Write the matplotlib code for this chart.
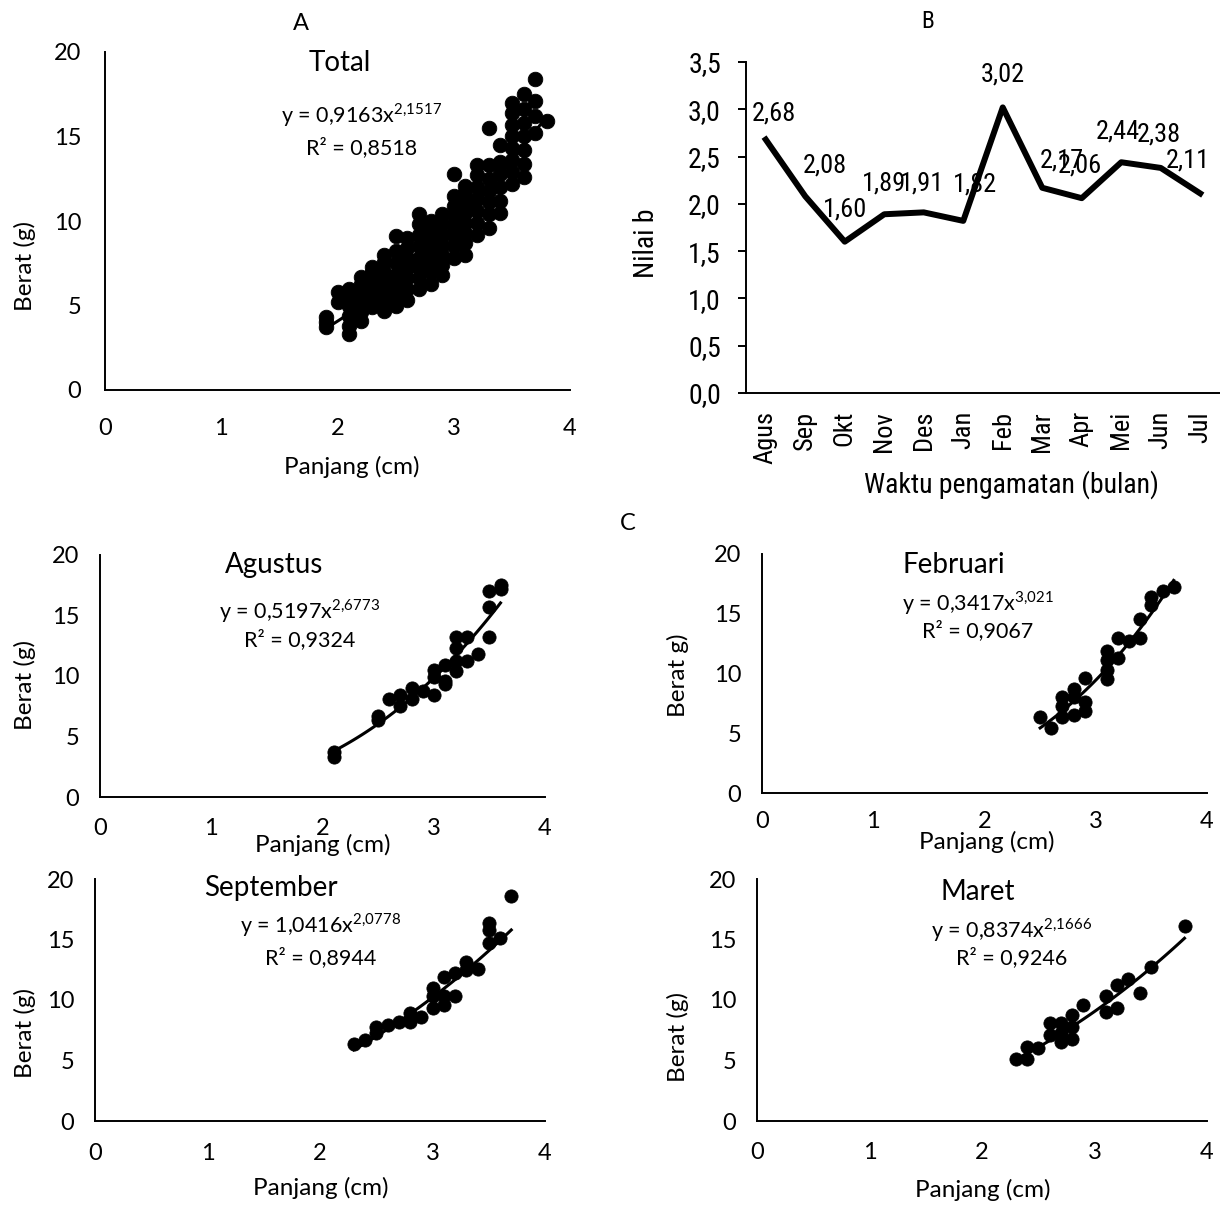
import numpy as np
import matplotlib
matplotlib.use("Agg")
import matplotlib.pyplot as plt
from matplotlib import font_manager

# --------------------------------------------------
# Data
# --------------------------------------------------
bulan = ["Agus", "Sep", "Okt", "Nov", "Des", "Jan", "Feb", "Mar", "Apr", "Mei", "Jun", "Jul"]
nilai_b = [2.68, 2.08, 1.60, 1.89, 1.91, 1.82, 3.02, 2.17, 2.06, 2.44, 2.38, 2.11]

# total: all months pooled
total_len = [1.9, 1.9, 1.9,
             2.0, 2.0,
             2.1, 2.1, 2.1, 2.1, 2.1, 2.1,
             2.2, 2.2, 2.2, 2.2, 2.2, 2.2,
             2.3, 2.3, 2.3, 2.3, 2.3, 2.3,
             2.4, 2.4, 2.4, 2.4, 2.4, 2.4, 2.4,
             2.5, 2.5, 2.5, 2.5, 2.5, 2.5, 2.5,
             2.6, 2.6, 2.6, 2.6, 2.6, 2.6, 2.6,
             2.7, 2.7, 2.7, 2.7, 2.7, 2.7, 2.7, 2.7,
             2.8, 2.8, 2.8, 2.8, 2.8, 2.8, 2.8,
             2.9, 2.9, 2.9, 2.9, 2.9, 2.9, 2.9,
             3.0, 3.0, 3.0, 3.0, 3.0, 3.0, 3.0, 3.0,
             3.1, 3.1, 3.1, 3.1, 3.1, 3.1, 3.1, 3.1,
             3.2, 3.2, 3.2, 3.2, 3.2, 3.2, 3.2,
             3.3, 3.3, 3.3, 3.3, 3.3, 3.3, 3.3,
             3.4, 3.4, 3.4, 3.4, 3.4, 3.4,
             3.5, 3.5, 3.5, 3.5, 3.5, 3.5, 3.5, 3.5,
             3.6, 3.6, 3.6, 3.6, 3.6, 3.6, 3.6,
             3.7, 3.7, 3.7, 3.7,
             3.8]
total_wt = [3.7, 4.0, 4.3,
            5.2, 5.8,
            3.3, 3.8, 4.4, 5.0, 5.5, 6.0,
            4.1, 4.6, 5.2, 5.8, 6.3, 6.7,
            4.9, 5.4, 6.0, 6.5, 7.0, 7.3,
            4.7, 5.2, 5.8, 6.4, 7.0, 7.6, 8.0,
            5.0, 5.6, 6.2, 6.8, 7.5, 8.2, 9.1,
            5.3, 6.0, 6.6, 7.2, 7.8, 8.4, 9.0,
            6.0, 6.6, 7.2, 7.8, 8.5, 9.2, 9.8, 10.4,
            6.3, 7.0, 7.6, 8.2, 8.8, 9.4, 10.0,
            6.8, 7.4, 8.0, 8.6, 9.2, 9.8, 10.4,
            7.8, 8.5, 9.1, 9.7, 10.3, 10.9, 11.5, 12.8,
            8.0, 8.7, 9.3, 9.9, 10.5, 11.1, 11.7, 12.1,
            9.2, 9.9, 10.6, 11.3, 12.0, 12.7, 13.3,
            9.6, 10.4, 11.1, 11.8, 12.5, 13.3, 15.5,
            10.5, 11.2, 12.0, 12.8, 13.5, 14.5,
            12.2, 12.9, 13.6, 14.3, 15.0, 15.7, 16.4, 17.0,
            12.6, 13.4, 14.2, 15.0, 15.8, 16.6, 17.5,
            15.2, 16.2, 17.1, 18.4,
            15.9]

agus_len = [2.1, 2.1, 2.5, 2.5, 2.6, 2.7, 2.7, 2.8, 2.8, 2.9, 3.0, 3.0, 3.0,
            3.1, 3.1, 3.1, 3.2, 3.2, 3.2, 3.2, 3.3, 3.3, 3.4, 3.5, 3.5, 3.5, 3.6, 3.6]
agus_wt = [3.3, 3.7, 6.4, 6.7, 8.1, 7.5, 8.4, 8.1, 9.0, 8.8, 8.4, 9.9, 10.5,
           9.3, 9.6, 10.9, 10.4, 11.2, 12.3, 13.2, 11.2, 13.2, 11.8, 13.2, 15.7, 17.0, 17.2, 17.5]

feb_len = [2.5, 2.6, 2.7, 2.7, 2.7, 2.8, 2.8, 2.8, 2.9, 2.9, 2.9,
           3.1, 3.1, 3.1, 3.1, 3.2, 3.2, 3.3, 3.4, 3.4, 3.5, 3.5, 3.6, 3.7]
feb_wt = [6.4, 5.4, 8.0, 7.3, 6.4, 8.7, 8.0, 6.5, 9.6, 7.6, 6.9,
          11.9, 11.1, 10.3, 9.5, 13.0, 11.3, 12.7, 14.6, 13.0, 16.4, 15.7, 16.9, 17.2]

sep_len = [2.3, 2.4, 2.5, 2.5, 2.6, 2.7, 2.8, 2.8, 2.9, 3.0, 3.0, 3.0,
           3.1, 3.1, 3.1, 3.2, 3.2, 3.3, 3.3, 3.4, 3.5, 3.5, 3.5, 3.6, 3.7]
sep_wt = [6.4, 6.7, 7.8, 7.3, 7.9, 8.2, 8.9, 8.2, 8.6, 11.0, 10.3, 9.3,
          11.9, 10.3, 9.6, 10.3, 12.2, 13.1, 12.5, 12.6, 16.4, 15.8, 14.7, 15.1, 18.6]

mar_len = [2.3, 2.4, 2.4, 2.5, 2.6, 2.6, 2.7, 2.7, 2.7, 2.8, 2.8, 2.8,
           2.9, 3.1, 3.1, 3.2, 3.2, 3.3, 3.4, 3.5, 3.8]
mar_wt = [5.1, 6.1, 5.1, 6.0, 8.1, 7.1, 8.1, 6.5, 7.3, 8.8, 7.8, 6.8,
          9.6, 10.3, 9.0, 11.2, 9.3, 11.7, 10.6, 12.7, 16.1]

# power fits y = a * x^b and R^2, as printed on the chart
fit_total = (0.9163, 2.1517, 0.8518)
fit_agus = (0.5197, 2.6773, 0.9324)
fit_feb = (0.3417, 3.021, 0.9067)
fit_sep = (1.0416, 2.0778, 0.8944)
fit_mar = (0.8374, 2.1666, 0.9246)

# label nudges for panel B in pixels (dx, dy up)
label_nudge = [(8, 26), (20, 31), (0, 32), (0, 31), (-2, 29), (12, 36),
               (0, 33), (20, 27), (-2, 33), (-3, 31), (-2, 33), (-12, 33)]

# --------------------------------------------------
# Fonts
# --------------------------------------------------
SANS = ["Lato", "DejaVu Sans"]
installed = {f.name for f in font_manager.fontManager.ttflist}
NARROW_KW = None
for cand in ["Liberation Sans Narrow", "Arial Narrow", "Roboto Condensed",
             "Open Sans Condensed", "Noto Sans Condensed"]:
    if cand in installed:
        NARROW_KW = dict(family=[cand, "DejaVu Sans"])
        break
if NARROW_KW is None:
    cond = [f for f in font_manager.fontManager.ttflist
            if f.stretch in ("condensed", "semi-condensed", 75, 87, "75", "87")
            and f.style == "normal"]
    if cond:
        NARROW_KW = dict(family=[cond[0].name, "DejaVu Sans"], stretch=cond[0].stretch)
    else:
        NARROW_KW = dict(family=["Roboto", "DejaVu Sans"])

plt.rcParams["font.family"] = SANS
plt.rcParams["mathtext.fontset"] = "custom"
plt.rcParams["mathtext.rm"] = "Lato"

# --------------------------------------------------
# Figure helpers (pixel layout)
# --------------------------------------------------
W, H = 1220, 1205
fig = plt.figure(figsize=(W / 100, H / 100), dpi=100)


def px_axes(x0, x1, ytop, ybot):
    return fig.add_axes([x0 / W, 1 - ybot / H, (x1 - x0) / W, (ybot - ytop) / H])


def ftext(px, py, s, **kw):
    kw.setdefault("ha", "center")
    kw.setdefault("va", "center")
    return fig.text(px / W, 1 - py / H, s, **kw)


def fmt_num(v, nd):
    return f"{v:.{nd}f}".replace(".", ",")


def eq_text(a, b):
    bs = str(b).replace(".", "{,}")
    return "y = " + str(a).replace(".", ",") + "x$^{\\mathrm{" + bs + "}}$"


def scatter_panel(box, lens, wts, fit, title, pos, ylab="Berat (g)", ms=10):
    x0, x1, ytop, ybot = box
    ax = px_axes(x0, x1, ytop, ybot)
    a, b, r2 = fit
    ax.plot(lens, wts, "o", color="black", ms=ms, mec="black", mew=0.6,
            clip_on=False, zorder=3)
    xs = np.linspace(min(lens), max(lens), 60)
    ax.plot(xs, a * xs ** b, color="black", lw=2.2, zorder=4)
    ax.set_xlim(0, 4)
    ax.set_ylim(0, 20)
    ax.set_xticks([0, 1, 2, 3, 4])
    ax.set_yticks([0, 5, 10, 15, 20])
    for s in ["top", "right"]:
        ax.spines[s].set_visible(False)
    for s in ["left", "bottom"]:
        ax.spines[s].set_linewidth(1.4)
    ax.tick_params(length=0, labelsize=17, colors="black")
    ax.tick_params(axis="x", pad=pos["xpad"])
    ax.tick_params(axis="y", pad=pos["ypad"])
    ax.patch.set_alpha(0)
    ftext(*pos["title"], title, fontsize=20)
    ftext(*pos["eq"], eq_text(a, b), fontsize=15.5)
    ftext(*pos["r2"], "R² = " + fmt_num(r2, 4), fontsize=15.5)
    ftext(*pos["ylab"], ylab, fontsize=17.5, rotation=90)
    ftext(*pos["xlab"], "Panjang (cm)", fontsize=17.5)
    return ax


# --------------------------------------------------
# A: Total
# --------------------------------------------------
scatter_panel((105, 570, 52, 390), total_len, total_wt, fit_total, "Total",
              dict(title=(340, 63), eq=(362, 115), r2=(362, 148), ylab=(25, 266),
                   xlab=(352, 467), xpad=20, ypad=17), ms=10.5)
ftext(301, 23, "A", fontsize=17)

# --------------------------------------------------
# B: b value per month
# --------------------------------------------------
axb = px_axes(746, 1220, 62, 393)
xi = np.arange(len(bulan))
axb.plot(xi, nilai_b, color="black", lw=4.3, solid_joinstyle="round", zorder=3)
for i, v in enumerate(nilai_b):
    dx, dy = label_nudge[i]
    axb.annotate(fmt_num(v, 2), (xi[i], v), xytext=(dx * 0.72, dy * 0.72),
                 textcoords="offset points", ha="center", va="center",
                 fontsize=19, **NARROW_KW)
axb.set_xlim(-0.5, len(bulan) - 0.5)
axb.set_ylim(0, 3.5)
yt = np.arange(0, 3.51, 0.5)
axb.set_yticks(yt)
axb.set_yticklabels([fmt_num(t, 1) for t in yt], fontsize=20, **NARROW_KW)
axb.set_xticks(xi)
axb.set_xticklabels(bulan, rotation=90, fontsize=19, **NARROW_KW)
for s in ["top", "right"]:
    axb.spines[s].set_visible(False)
for s in ["left", "bottom"]:
    axb.spines[s].set_linewidth(1.4)
axb.tick_params(axis="y", length=6, width=1.4, direction="out", pad=12)
axb.tick_params(axis="x", length=0, pad=13)
ftext(647, 243, "Nilai b", fontsize=20, rotation=90, **NARROW_KW)
ftext(1011, 485, "Waktu pengamatan (bulan)", fontsize=20, **NARROW_KW)
ftext(928, 22, "B", fontsize=17, **NARROW_KW)

# --------------------------------------------------
# C: selected months
# --------------------------------------------------
ftext(628, 524, "C", fontsize=17)

scatter_panel((100, 545, 555, 797), agus_len, agus_wt, fit_agus, "Agustus",
              dict(title=(274, 565), eq=(300, 611), r2=(300, 640), ylab=(25, 685),
                   xlab=(323, 845), xpad=15, ypad=15), ms=9.5)

scatter_panel((762, 1207, 554, 793), feb_len, feb_wt, fit_feb, "Februari",
              dict(title=(954, 565), eq=(978, 603), r2=(978, 631), ylab=(678, 675),
                   xlab=(987, 842), xpad=13, ypad=15), ylab="Berat g)", ms=9.5)

scatter_panel((95, 545, 879, 1121), sep_len, sep_wt, fit_sep, "September",
              dict(title=(271, 888), eq=(321, 925), r2=(321, 958), ylab=(25, 1033),
                   xlab=(321, 1188), xpad=16, ypad=15), ms=9.5)

scatter_panel((757, 1207, 879, 1121), mar_len, mar_wt, fit_mar, "Maret",
              dict(title=(978, 892), eq=(1012, 930), r2=(1012, 958), ylab=(678, 1037),
                   xlab=(983, 1190), xpad=15, ypad=15), ms=9.5)

fig.savefig("out.png", dpi=100, facecolor="white")
